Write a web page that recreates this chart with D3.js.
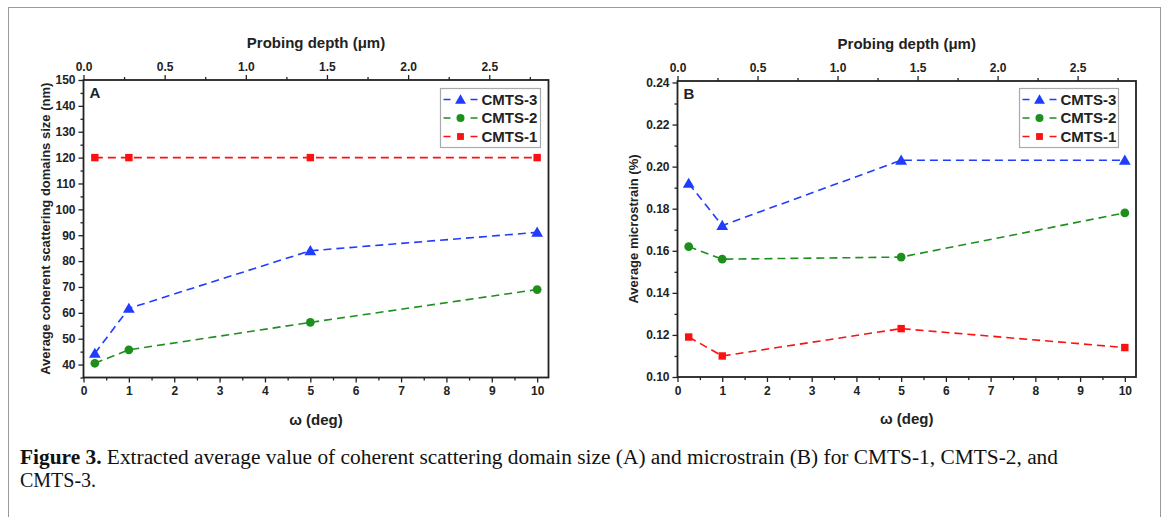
<!DOCTYPE html>
<html><head><meta charset="utf-8">
<script src="https://cdn.jsdelivr.net/npm/d3@7"></script>
<style>body{margin:0;background:#fff}svg{display:block}</style>
</head><body>
<svg id="c" width="1168" height="517"></svg>
<script>
// ---- data ----
const omega = [0.25, 1, 5, 10];
const seriesNames = ["CMTS-3", "CMTS-2", "CMTS-1"];
const sizeCMTS3 = [44.3, 61.7, 84.0, 91.1];
const sizeCMTS2 = [40.5, 45.7, 56.3, 69.0];
const sizeCMTS1 = [120, 120, 120, 120];
const strainCMTS3 = [0.192, 0.172, 0.203, 0.203];
const strainCMTS2 = [0.162, 0.156, 0.157, 0.178];
const strainCMTS1 = [0.119, 0.110, 0.123, 0.114];
const sizeTicks = [40, 50, 60, 70, 80, 90, 100, 110, 120, 130, 140, 150];
const strainTicks = [0.10, 0.12, 0.14, 0.16, 0.18, 0.20, 0.22, 0.24];
const omegaTicks = [0, 1, 2, 3, 4, 5, 6, 7, 8, 9, 10];
const depthTicks = [0.0, 0.5, 1.0, 1.5, 2.0, 2.5];

const colors = {"CMTS-3": "#1f3cff", "CMTS-2": "#1d8f1d", "CMTS-1": "#ff1010"};
const shapes = {"CMTS-3": d3.symbolTriangle, "CMTS-2": d3.symbolCircle, "CMTS-1": d3.symbolSquare};
const shapeSize = {"CMTS-3": 60, "CMTS-2": 60, "CMTS-1": 55};

const svg = d3.select("#c");
svg.append("rect").attr("x", 8.5).attr("y", 7.5).attr("width", 1152).attr("height", 530)
  .attr("fill", "none").attr("stroke", "#9a9a9a").attr("stroke-width", 1);

const FONT = "Liberation Sans, Arial, sans-serif";

function panel(opt) {
  const {left, right, top, bottom, yDomain, yTicks, yMinor, yFmt, series, label, yTitle, yTitleX, legend} = opt;
  const g = svg.append("g");
  const x = d3.scaleLinear().domain([0, 10.25]).range([left, right]);
  const xt = d3.scaleLinear().domain([0, 2.865]).range([left, right]);
  const y = d3.scaleLinear().domain(yDomain).range([bottom, top]);

  const minorX = d3.range(0.5, 10.25, 1);
  const minorXT = d3.range(0.25, 2.865, 0.5);
  g.append("g").attr("transform", `translate(0,${bottom})`)
    .call(d3.axisBottom(x).tickValues(minorX).tickSize(3).tickFormat(""))
    .call(a => a.select(".domain").remove());
  g.append("g").attr("transform", `translate(0,${top})`)
    .call(d3.axisTop(xt).tickValues(minorXT).tickSize(3).tickFormat(""))
    .call(a => a.select(".domain").remove());
  g.append("g").attr("transform", `translate(${left},0)`)
    .call(d3.axisLeft(y).tickValues(yMinor).tickSize(3).tickFormat(""))
    .call(a => a.select(".domain").remove());

  const bx = g.append("g").attr("transform", `translate(0,${bottom})`)
    .call(d3.axisBottom(x).tickValues(omegaTicks).tickSize(5).tickPadding(4).tickFormat(d3.format("d")));
  const tx = g.append("g").attr("transform", `translate(0,${top})`)
    .call(d3.axisTop(xt).tickValues(depthTicks).tickSize(5).tickPadding(4).tickFormat(d3.format(".1f")));
  const ly = g.append("g").attr("transform", `translate(${left},0)`)
    .call(d3.axisLeft(y).tickValues(yTicks).tickSize(5).tickPadding(3).tickFormat(yFmt));
  [bx, tx, ly].forEach(a => {
    a.select(".domain").remove();
    a.selectAll("text").attr("font-family", FONT).attr("font-weight", "bold").attr("font-size", 12).attr("fill", "#222");
  });
  g.selectAll(".tick line").attr("stroke", "#222").attr("stroke-width", 1.3);

  g.append("rect").attr("x", left).attr("y", top).attr("width", right - left).attr("height", bottom - top)
    .attr("fill", "none").attr("stroke", "#222").attr("stroke-width", 1.8);

  const line = d3.line().x(d => x(d[0])).y(d => y(d[1]));
  series.forEach(s => {
    const pts = omega.map((o, i) => [o, s.values[i]]);
    g.append("path").datum(pts).attr("d", line).attr("fill", "none")
      .attr("stroke", colors[s.name]).attr("stroke-width", 1.6).attr("stroke-dasharray", "8,5");
    g.selectAll(null).data(pts).enter().append("path")
      .attr("transform", d => `translate(${x(d[0])},${y(d[1]) + (s.name === "CMTS-3" ? 1 : 0)})`)
      .attr("d", d3.symbol().type(shapes[s.name]).size(shapeSize[s.name]))
      .attr("fill", colors[s.name]);
  });

  g.append("text").attr("x", left + 6).attr("y", top + 18).text(label)
    .attr("font-family", FONT).attr("font-weight", "bold").attr("font-size", 15).attr("fill", "#222");

  const cx = (left + right) / 2;
  g.append("text").attr("x", cx).attr("y", top - 32).attr("text-anchor", "middle")
    .attr("font-family", FONT).attr("font-weight", "bold").attr("font-size", 15).attr("fill", "#222")
    .text("Probing depth (μm)");
  g.append("text").attr("x", cx).attr("y", bottom + 47).attr("text-anchor", "middle")
    .attr("font-family", FONT).attr("font-weight", "bold").attr("font-size", 15).attr("fill", "#222")
    .text("ω (deg)");
  g.append("text").attr("transform", `translate(${yTitleX},${(top + bottom) / 2}) rotate(-90)`)
    .attr("text-anchor", "middle").attr("dy", "0.35em")
    .attr("font-family", FONT).attr("font-weight", "bold").attr("font-size", 13).attr("fill", "#222")
    .text(yTitle);

  const lg = g.append("g");
  lg.append("rect").attr("x", legend.x).attr("y", legend.y).attr("width", legend.w).attr("height", 59)
    .attr("fill", "#fff").attr("stroke", "#aaa").attr("stroke-width", 1.2);
  seriesNames.forEach((n, i) => {
    const yy = legend.y + 11 + i * 18.5;
    lg.append("line").attr("x1", legend.x + 3).attr("x2", legend.x + 37).attr("y1", yy).attr("y2", yy)
      .attr("stroke", colors[n]).attr("stroke-width", 1.6).attr("stroke-dasharray", "7,20,7");
    lg.append("path").attr("transform", `translate(${legend.x + 20},${yy + (n === "CMTS-3" ? 1 : 0)})`)
      .attr("d", d3.symbol().type(shapes[n]).size(shapeSize[n] * 0.85)).attr("fill", colors[n]);
    lg.append("text").attr("x", legend.x + 41).attr("y", yy).attr("dy", "0.36em").text(n)
      .attr("font-family", FONT).attr("font-weight", "bold").attr("font-size", 15).attr("fill", "#222");
  });
}

panel({
  left: 83.5, right: 548.5, top: 80, bottom: 377.5,
  yDomain: [35, 150], yTicks: sizeTicks, yMinor: d3.range(35, 150, 5).filter(v => v % 10 !== 0),
  yFmt: d3.format("d"),
  series: [{name: "CMTS-3", values: sizeCMTS3}, {name: "CMTS-2", values: sizeCMTS2}, {name: "CMTS-1", values: sizeCMTS1}],
  label: "A", yTitle: "Average coherent scattering domains size (nm)", yTitleX: 45,
  legend: {x: 440.5, y: 88.5, w: 100}
});
panel({
  left: 677.5, right: 1136, top: 81, bottom: 377,
  yDomain: [0.10, 0.2407], yTicks: strainTicks, yMinor: d3.range(0.11, 0.24, 0.02),
  yFmt: d3.format(".2f"),
  series: [{name: "CMTS-3", values: strainCMTS3}, {name: "CMTS-2", values: strainCMTS2}, {name: "CMTS-1", values: strainCMTS1}],
  label: "B", yTitle: "Average microstrain (%)", yTitleX: 633,
  legend: {x: 1019.5, y: 88.5, w: 99}
});

const cap = svg.append("text").attr("font-family", "Liberation Serif, Times New Roman, serif").attr("font-size", 20).attr("fill", "#111");
const l1 = cap.append("tspan").attr("x", 20).attr("y", 464).attr("textLength", 1038).attr("lengthAdjust", "spacingAndGlyphs");
l1.append("tspan").attr("font-weight", "bold").text("Figure 3.");
l1.append("tspan").text(" Extracted average value of coherent scattering domain size (A) and microstrain (B) for CMTS-1, CMTS-2, and");
cap.append("tspan").attr("x", 20).attr("y", 487).text("CMTS-3.");
</script>
</body></html>
